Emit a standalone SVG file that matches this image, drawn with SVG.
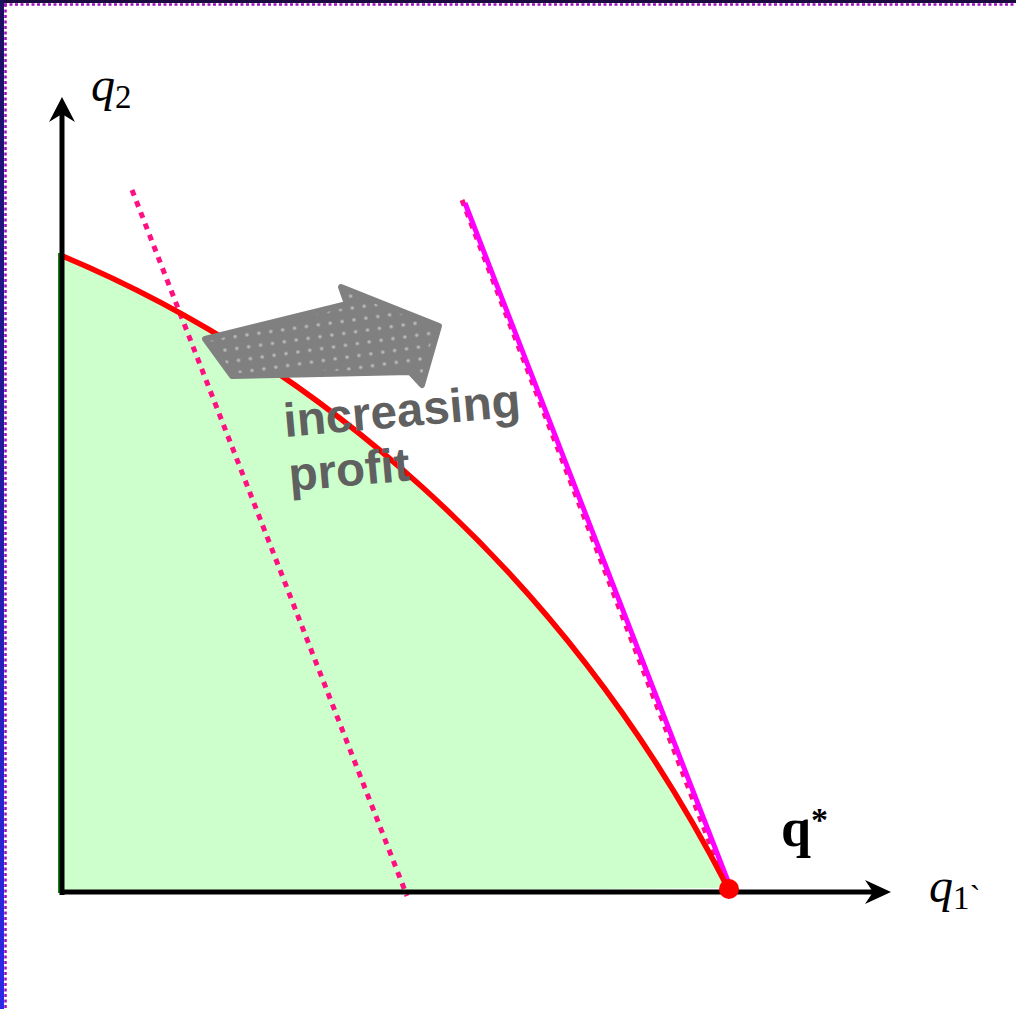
<svg xmlns="http://www.w3.org/2000/svg" width="1016" height="1009" viewBox="0 0 1016 1009">
<defs>
<linearGradient id="lg" x1="0" y1="0" x2="0" y2="1">
<stop offset="0" stop-color="#1a1060"/>
<stop offset="1" stop-color="#2a2ae8"/>
</linearGradient>
<pattern id="dots" width="12" height="12" patternUnits="userSpaceOnUse" patternTransform="rotate(-8)">
<rect width="12" height="12" fill="#808080"/>
<circle cx="6" cy="6" r="1.8" fill="#b8b8b8"/>
</pattern>
</defs>
<style>
.axis{stroke:#000;stroke-width:5;fill:none}
.dot{stroke:#ff1080;stroke-width:5;stroke-dasharray:6 6;fill:none}
.it{font-family:"Liberation Serif",serif;font-style:italic;fill:#000}
.lbl{font-family:"Liberation Sans",Arial,sans-serif;font-weight:bold;font-size:47.5px;fill:#606060}
</style>
<rect width="1016" height="1009" fill="#fff"/>
<rect x="0" y="0" width="1016" height="3" fill="#1a0a40"/>
<rect x="0" y="0" width="4" height="1009" fill="url(#lg)"/>
<line x1="4" y1="4.5" x2="1016" y2="4.5" stroke="#a010c0" stroke-width="2.5" stroke-dasharray="3 2.5"/>
<line x1="5.5" y1="4" x2="5.5" y2="1009" stroke="#a010c0" stroke-width="2.5" stroke-dasharray="3 2.5"/>

<g id="region">
<path d="M59,254 C300,355 560,560 728,888 L59,893 Z" fill="#ccffcc"/>
<line x1="59" y1="253" x2="59" y2="893" stroke="#118811" stroke-width="2"/>
</g>

<g id="connectors">
<line class="dot" x1="132" y1="190" x2="407" y2="896"/>
<line class="dot" x1="462" y1="200" x2="727" y2="888"/>
<line x1="465" y1="203" x2="731" y2="889" stroke="#ff00ff" stroke-width="5"/>
<path d="M60,255 C300,355 560,560 728,888" fill="none" stroke="#ff0000" stroke-width="5.5"/>
<line class="axis" x1="62" y1="895" x2="62" y2="112"/>
<line class="axis" x1="60" y1="892" x2="874" y2="892"/>
<polygon points="62,97 75,122 62,114 49,122" fill="#000"/>
<polygon points="891,892 865,880 873,892 865,904" fill="#000"/>
</g>

<g id="qstar">
<circle cx="729" cy="889" r="10" fill="#ff0000"/>
<text x="781" y="846" font-family="Liberation Serif,serif" font-weight="bold" font-size="54">q<tspan font-size="34" dy="-15">*</tspan></text>
</g>

<g id="q2label">
<text class="it" x="91" y="101" font-size="48">q<tspan font-size="33" font-style="normal" dy="7">2</tspan></text>
</g>
<g id="q1label">
<text class="it" x="929" y="902" font-size="48">q<tspan font-size="33" font-style="normal" dy="7">1`</tspan></text>
</g>

<g id="arrow">
<polygon points="205,339 232,376 410,372 422,385 439,326 341,287 347,304" fill="url(#dots)" stroke="#808080" stroke-width="6" stroke-linejoin="round"/>
</g>

<g id="label">
<text class="lbl" transform="rotate(-5 285 437)" x="285" y="437">increasing</text>
<text class="lbl" transform="rotate(-5 290 491)" x="290" y="491">profit</text>
</g>
</svg>
